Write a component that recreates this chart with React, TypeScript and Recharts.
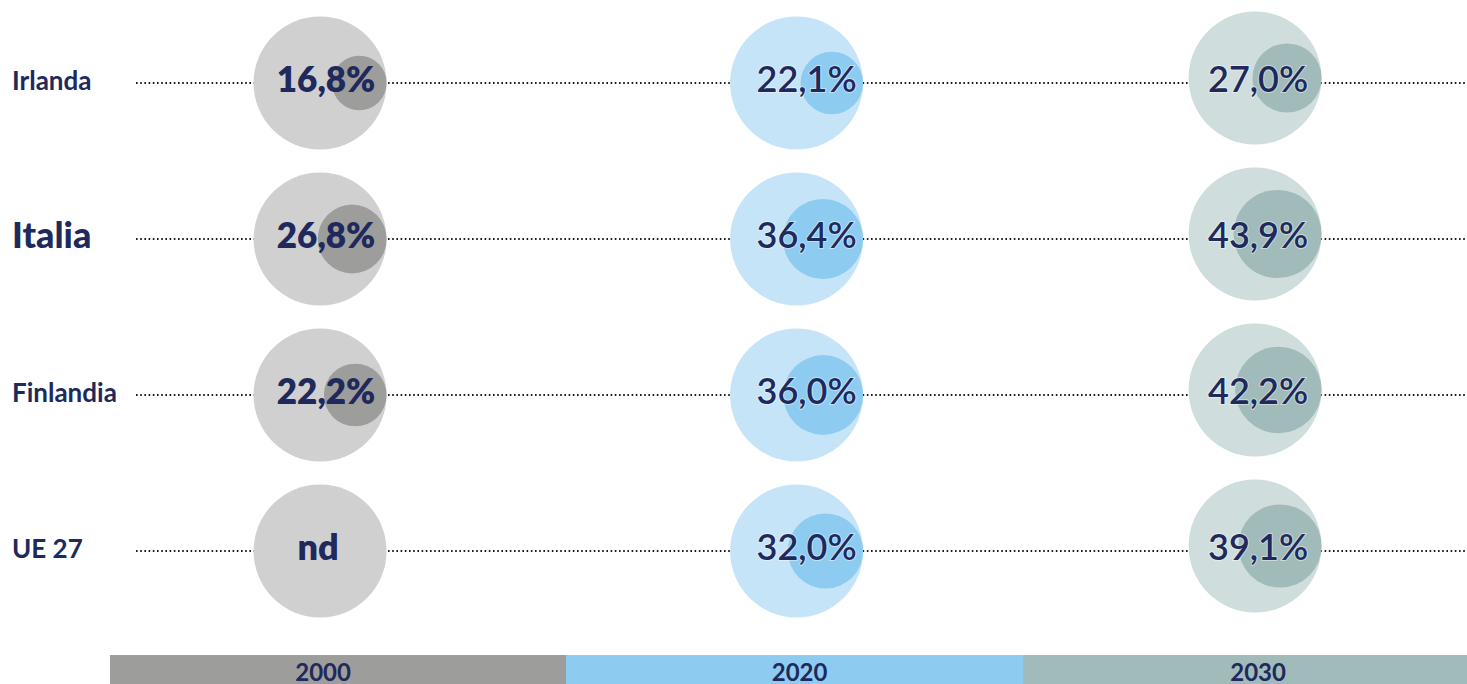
import React from "react";
import { ScatterChart, Scatter, XAxis, YAxis, ZAxis } from "recharts";

const countries = ["Irlanda", "Italia", "Finlandia", "UE 27"];
const years = ["2000", "2020", "2030"];
const share2000: (number | null)[] = [16.8, 26.8, 22.2, null];
const share2020: (number | null)[] = [22.1, 36.4, 36.0, 32.0];
const share2030: (number | null)[] = [27.0, 43.9, 42.2, 39.1];
const seriesByYear = [share2000, share2020, share2030];

const NAVY = "#20295b";
const FONT = "Lato, 'Open Sans', sans-serif";
const R = 66.5; // outer circle = 100%

const PALETTE = [
  { outer: "#d0d0d0", inner: "#9d9d9c" },
  { outer: "#c6e4f8", inner: "#8ecbf0" },
  { outer: "#cfdedd", inner: "#a1bbba" },
];

// small nudges so the columns sit where the original put them
const COL_DX = [-2, 7, -2];
const CIRCLE_DY = [0, 0, -5];
const TEXT_DX = [6, 10, 3];
const BAND = [
  [110, 566],
  [566, 1023],
  [1023, 1467],
];

const fmt = (v: number | null) =>
  v == null ? "nd" : v.toFixed(1).replace(".", ",") + "%";

// dotted guide across each row, drawn first so circles sit on top
const GuideShape = (props: any) => {
  const { cy } = props;
  return (
    <line
      x1={136}
      x2={1467}
      y1={cy}
      y2={cy}
      stroke="#1a1a1a"
      strokeWidth={1.8}
      strokeDasharray="1.6 2.6"
    />
  );
};

const makeShape = (yi: number) => (props: any) => {
  const { cx, cy, payload, size } = props;
  const pal = PALETTE[yi];
  const x = cx + COL_DX[yi];
  const cyc = cy + CIRCLE_DY[yi];
  const v: number | null = payload.value;
  const r =
    size && size > 0 ? Math.sqrt(size / Math.PI) : v != null ? R * Math.sqrt(v / 100) : 0;
  return (
    <g>
      <circle cx={x} cy={cyc} r={R} fill={pal.outer} />
      {v != null && <circle cx={x + R - r} cy={cyc} r={r} fill={pal.inner} />}
      <text
        x={v == null ? x - 2 : x + TEXT_DX[yi]}
        y={cy + 9}
        textAnchor="middle"
        fontFamily={FONT}
        fontWeight={yi === 0 ? 800 : 600}
        fontSize={v == null ? 36 : yi === 0 ? 35 : 36}
        fill={NAVY}
        stroke={yi === 0 ? "none" : "rgba(255,255,255,0.45)"}
        strokeWidth={yi === 0 ? 0 : 2}
        paintOrder="stroke"
      >
        {fmt(v)}
      </text>
    </g>
  );
};

const CountryTick = (props: any) => {
  const { y, payload } = props;
  const big = payload.value === "Italia";
  return (
    <text
      x={12}
      y={y + (big ? 9 : 7)}
      textAnchor="start"
      fontFamily={FONT}
      fontWeight={big ? 900 : 700}
      fontSize={big ? 36 : 26}
      fill={NAVY}
    >
      {payload.value}
    </text>
  );
};

const YearTick = (props: any) => {
  const { x, payload } = props;
  const i = payload.value as number;
  const [l, r] = BAND[i];
  return (
    <g>
      <rect x={l} y={655} width={r - l} height={40} fill={PALETTE[i].inner} />
      <text
        x={x + COL_DX[i] + 3}
        y={681}
        textAnchor="middle"
        fontFamily={FONT}
        fontWeight={700}
        fontSize={24}
        fill={NAVY}
      >
        {years[i]}
      </text>
    </g>
  );
};

export default function App() {
  const data = seriesByYear.map((series, yi) =>
    countries.map((c, ci) => ({ country: c, col: yi, value: series[ci] }))
  );
  const guides = countries.map((c) => ({ country: c, col: 0 }));

  return (
    <div style={{ position: "absolute", left: 0, top: 0, background: "#fff" }}>
      <ScatterChart
        width={1467}
        height={684}
        margin={{ top: 5, right: 0, bottom: 0, left: 0 }}
      >
        <YAxis
          type="category"
          dataKey="country"
          allowDuplicatedCategory={false}
          width={136}
          axisLine={false}
          tickLine={false}
          tick={<CountryTick />}
          reversed
        />
        <XAxis
          type="number"
          dataKey="col"
          domain={[-0.398, 2.449]}
          ticks={[0, 1, 2]}
          height={55}
          axisLine={false}
          tickLine={false}
          tickSize={0}
          tickMargin={0}
          tick={<YearTick />}
          interval={0}
        />
        <ZAxis type="number" dataKey="value" domain={[0, 100]} range={[0, Math.PI * R * R]} />
        <Scatter data={guides} shape={<GuideShape />} isAnimationActive={false} />
        {data.map((d, yi) => (
          <Scatter
            key={years[yi]}
            data={d}
            shape={makeShape(yi)}
            isAnimationActive={false}
          />
        ))}
      </ScatterChart>
    </div>
  );
}
